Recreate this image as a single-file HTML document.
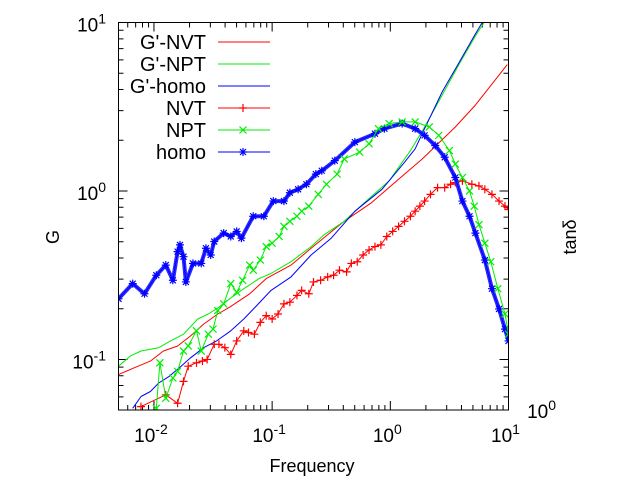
<!DOCTYPE html>
<html><head><meta charset="utf-8">
<style>
html,body{margin:0;padding:0;background:#fff;}
svg{display:block;font-family:"Liberation Sans",sans-serif;}
</style></head>
<body>
<svg id="chart" width="640" height="480" viewBox="0 0 640 480">
<defs><clipPath id="plotclip"><rect x="118.5" y="22.5" width="390" height="387.5"/></clipPath></defs>
<g id="ticks"></g>
<g id="series" clip-path="url(#plotclip)"></g>
<rect x="118.5" y="22.5" width="390" height="387.5" fill="none" stroke="#000" stroke-width="1"/>
<g id="labels"></g>
<g id="legend"></g>
<text x="312" y="472" font-size="18" text-anchor="middle">Frequency</text>
<text x="0" y="0" font-size="18" text-anchor="middle" transform="translate(59,237) rotate(-90)">G</text>
<text x="0" y="0" font-size="18" text-anchor="middle" transform="translate(576,237) rotate(-90)">tanδ</text>
</svg>
<script>
// data stored as log10(frequency) and log10(G)
const gNvtX=[-2.30,-2.17,-2.03,-1.92,-1.80,-1.69,-1.58,-1.46,-1.36,-1.19,-1.05,-0.84,-0.67,-0.39,-0.16,0.07,0.27,0.55,0.72,0.99];
const gNvtY=[-1.09,-1.05,-1.01,-0.95,-0.92,-0.86,-0.79,-0.73,-0.69,-0.61,-0.52,-0.44,-0.34,-0.18,-0.07,0.07,0.19,0.38,0.51,0.75];
const gNptX=[-2.30,-2.20,-2.11,-1.96,-1.86,-1.75,-1.63,-1.54,-1.45,-1.36,-1.24,-1.11,-1.01,-0.84,-0.67,-0.56,-0.39,-0.22,-0.01,0.18,0.29,0.44,0.58,0.72,0.84];
const gNptY=[-1.04,-0.98,-0.95,-0.93,-0.89,-0.85,-0.76,-0.73,-0.69,-0.64,-0.58,-0.52,-0.49,-0.42,-0.33,-0.26,-0.18,-0.07,0.06,0.25,0.38,0.57,0.75,0.92,1.05];
const gHomoX=[-2.18,-2.11,-2.03,-1.96,-1.87,-1.77,-1.69,-1.58,-1.47,-1.35,-1.24,-1.13,-1.01,-0.84,-0.67,-0.50,-0.30,-0.07,0.12,0.21,0.29,0.44,0.58,0.71,0.82];
const gHomoY=[-1.29,-1.22,-1.19,-1.14,-1.10,-1.04,-0.99,-0.93,-0.89,-0.83,-0.76,-0.68,-0.59,-0.51,-0.38,-0.28,-0.12,0.01,0.17,0.25,0.37,0.59,0.76,0.92,1.05];
const nvtX=[-2.11,-1.90,-1.80,-1.75,-1.71,-1.64,-1.59,-1.55,-1.49,-1.45,-1.40,-1.35,-1.30,-1.24,-1.20,-1.15,-1.10,-1.05,-1.00,-0.95,-0.90,-0.85,-0.79,-0.75,-0.69,-0.65,-0.59,-0.53,-0.48,-0.43,-0.37,-0.33,-0.28,-0.23,-0.18,-0.13,-0.08,-0.03,0.02,0.07,0.12,0.17,0.21,0.25,0.29,0.34,0.40,0.46,0.51,0.55,0.61,0.69,0.75,0.80,0.86,0.92,0.97,1.00];
const nvtY=[-1.28,-1.21,-1.26,-1.13,-1.04,-1.02,-1.01,-1.00,-0.91,-0.91,-0.93,-0.97,-0.89,-0.83,-0.84,-0.85,-0.78,-0.74,-0.76,-0.73,-0.67,-0.66,-0.62,-0.59,-0.61,-0.54,-0.53,-0.51,-0.50,-0.47,-0.48,-0.43,-0.42,-0.38,-0.35,-0.33,-0.32,-0.27,-0.24,-0.21,-0.18,-0.15,-0.12,-0.09,-0.06,-0.02,0.02,0.02,0.04,0.05,0.06,0.04,0.03,0.01,-0.02,-0.06,-0.09,-0.11];
const nptX=[-1.98,-1.95,-1.90,-1.84,-1.80,-1.75,-1.71,-1.64,-1.60,-1.54,-1.50,-1.46,-1.41,-1.35,-1.30,-1.25,-1.19,-1.16,-1.10,-1.05,-1.00,-0.94,-0.90,-0.85,-0.79,-0.75,-0.69,-0.61,-0.54,-0.45,-0.39,-0.26,-0.18,-0.10,-0.01,0.10,0.21,0.33,0.41,0.50,0.55,0.61,0.67,0.71,0.75,0.80,0.85,0.91,0.97,1.00];
const nptY=[-1.29,-1.02,-1.23,-1.11,-1.07,-0.95,-0.92,-0.83,-0.95,-0.85,-0.82,-0.71,-0.67,-0.55,-0.60,-0.53,-0.44,-0.47,-0.41,-0.33,-0.31,-0.27,-0.21,-0.18,-0.15,-0.12,-0.09,-0.02,0.04,0.10,0.19,0.23,0.28,0.37,0.40,0.41,0.41,0.38,0.33,0.24,0.16,0.08,0.00,-0.09,-0.20,-0.31,-0.42,-0.58,-0.73,-0.85];
const homoX=[-2.30,-2.18,-2.08,-1.98,-1.90,-1.84,-1.80,-1.78,-1.75,-1.73,-1.67,-1.60,-1.56,-1.52,-1.49,-1.41,-1.35,-1.30,-1.26,-1.16,-1.07,-0.99,-0.90,-0.85,-0.78,-0.71,-0.63,-0.58,-0.47,-0.30,-0.13,-0.05,0.10,0.21,0.29,0.38,0.46,0.55,0.61,0.67,0.72,0.80,0.86,0.92,0.97,1.00];
const homoY=[-0.64,-0.55,-0.61,-0.50,-0.44,-0.53,-0.36,-0.32,-0.39,-0.54,-0.43,-0.43,-0.34,-0.38,-0.30,-0.25,-0.27,-0.24,-0.28,-0.15,-0.15,-0.06,-0.06,-0.01,0.01,0.04,0.10,0.12,0.18,0.29,0.34,0.37,0.40,0.37,0.33,0.27,0.20,0.08,-0.06,-0.15,-0.25,-0.41,-0.58,-0.70,-0.82,-0.89];
const xTickExps=[-2,-1,0,1];
const yTickExps=[-1,0,1];
const legendNames=["G'-NVT","G'-NPT","G'-homo","NVT","NPT","homo"];

const NS="http://www.w3.org/2000/svg";
const L=118.5,R=508.5,T=22.5,B=410;
const xMin=-2.3,xMax=1.0,yMin=-1.3,yMax=1.0;
function sx(v){return L+(v-xMin)/(xMax-xMin)*(R-L);}
function sy(v){return B-(v-yMin)/(yMax-yMin)*(B-T);}
function mk(tag,attrs,parent){const e=document.createElementNS(NS,tag);for(const k in attrs)e.setAttribute(k,attrs[k]);parent.appendChild(e);return e;}

const tg=document.getElementById('ticks');
let d='';
for(let e=-3;e<=1;e++){for(let m=1;m<10;m++){const v=e+Math.log10(m);if(v<xMin-1e-9||v>xMax+1e-9)continue;const x=sx(v),len=m===1?9:5;d+=`M${x},${B}v${-len}M${x},${T}v${len}`;}}
for(let e=-2;e<=1;e++){for(let m=1;m<10;m++){const v=e+Math.log10(m);if(v<yMin-1e-9||v>yMax+1e-9)continue;const y=sy(v),len=m===1?9:5;d+=`M${L},${y}h${len}M${R},${y}h${-len}`;}}
const tp=mk('path',{d:d,stroke:'#000','stroke-width':1,fill:'none'},tg);



const lg=document.getElementById('labels');
function expLabel(x,y,anchor,exp,name){
  const t=mk('text',{x:x,y:y,'font-size':19,'text-anchor':anchor},lg);
  
  
  const a=document.createElementNS(NS,'tspan');a.textContent='10';t.appendChild(a);
  const b=document.createElementNS(NS,'tspan');b.setAttribute('dy','-8');b.setAttribute('font-size','14');b.textContent=String(exp);t.appendChild(b);
}
xTickExps.forEach(e=>expLabel(sx(e)-3,442,'middle',e,'x-tick-label'));
yTickExps.forEach(e=>expLabel(106,sy(e)+9,'end',e,'y-tick-label'));
expLabel(556,418,'end',0,'y2-tick-label');

const sg=document.getElementById('series');
function line(xs,ys,color,name,w){
  const pts=xs.map((v,i)=>sx(v).toFixed(1)+','+sy(ys[i]).toFixed(1)).join(' ');
  const p=mk('polyline',{points:pts,fill:'none',stroke:color,'stroke-width':w||1,'stroke-linejoin':'round'},sg);
  
  
}
function markerPath(type,x,y){
  const s=4;
  if(type==='+')return `M${x-s},${y}h${2*s}M${x},${y-s}v${2*s}`;
  if(type==='x')return `M${x-3.5},${y-3.5}l7,7M${x-3.5},${y+3.5}l7,-7`;
  return `M${x-s},${y}h${2*s}M${x},${y-s}v${2*s}M${x-3},${y-3}l6,6M${x-3},${y+3}l6,-6`;
}
function markers(xs,ys,color,type,name,parent){
  let dd='';xs.forEach((v,i)=>{dd+=markerPath(type,sx(v),sy(ys[i]));});
  const p=mk('path',{d:dd,fill:'none',stroke:color,'stroke-width':1.2},parent||sg);
  
  
}
line(gNvtX,gNvtY,'#ff0000','g-prime-nvt-line');
line(gNptX,gNptY,'#00ee00','g-prime-npt-line');
line(gHomoX,gHomoY,'#0000ff','g-prime-homo-line');
line(nvtX,nvtY,'#ff0000','nvt-line');
markers(nvtX,nvtY,'#ff0000','+','nvt-markers');
line(homoX,homoY,'#2a2aff','homo-band',4);
line(homoX,homoY,'#0000ff','homo-line');
markers(homoX,homoY,'#0000ff','*','homo-markers');
line(nptX,nptY,'#00ee00','npt-line');
markers(nptX,nptY,'#00ee00','x','npt-markers');

const leg=document.getElementById('legend');
const colors=['#ff0000','#00ee00','#0000ff','#ff0000','#00ee00','#0000ff'];
const mtypes=[null,null,null,'+','x','*'];
legendNames.forEach((n,i)=>{
  const y=42+i*22;
  const g=mk('g',{},leg);
  
  
  const t=mk('text',{x:206,y:y+7,'font-size':20,'text-anchor':'end'},g);
  t.textContent=n;
  mk('line',{x1:218,y1:y,x2:270,y2:y,stroke:colors[i],'stroke-width':1},g);
  if(mtypes[i]){mk('path',{d:markerPath(mtypes[i],243,y),stroke:colors[i],fill:'none','stroke-width':1.2},g);}
});
</script>
</body></html>
